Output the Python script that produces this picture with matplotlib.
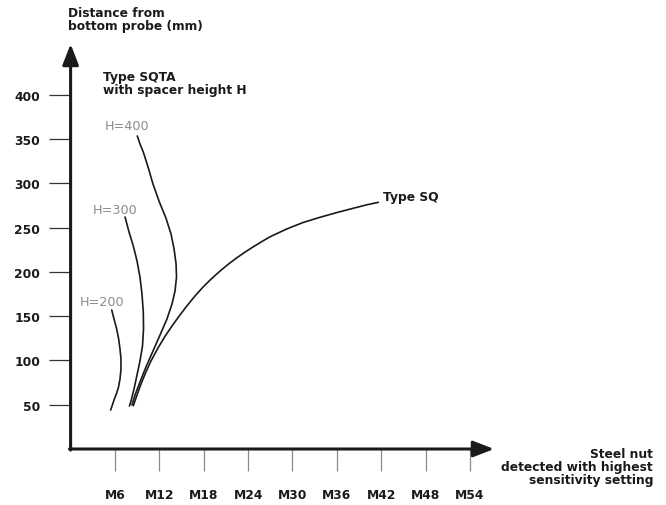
import matplotlib
matplotlib.use("Agg")
import matplotlib.pyplot as plt

# ---- data ----
x_ticks = [6, 12, 18, 24, 30, 36, 42, 48, 54]
x_tick_labels = ["M6", "M12", "M18", "M24", "M30", "M36", "M42", "M48", "M54"]
y_ticks = [50, 100, 150, 200, 250, 300, 350, 400]

h200_x = [5.56, 5.87, 6.23, 6.50, 6.68, 6.81, 6.81, 6.68, 6.48, 6.23, 5.87, 5.42]
h200_y = [156.9, 146.8, 135.5, 124.2, 112.9, 101.6, 90.3, 79.0, 70.0, 63.2, 55.3, 44.0]

h300_x = [7.36, 7.90, 8.48, 8.98, 9.38, 9.65, 9.83, 9.86, 9.72, 9.38, 8.98, 8.57, 8.17, 7.96]
h300_y = [261.9, 245.0, 229.2, 212.3, 194.2, 175.0, 154.7, 135.5, 116.3, 99.4, 83.5, 67.7, 54.2, 48.5]

h400_x = [9.02, 9.38, 9.83, 10.47, 11.14, 11.95, 12.90, 13.58, 13.99, 14.26, 14.32, 14.12,
          13.71, 13.03, 12.09, 11.14, 10.19, 9.38, 8.71, 8.30]
h400_y = [353.4, 344.4, 335.3, 318.4, 299.2, 280.0, 260.5, 242.7, 225.8, 208.9, 194.2, 178.4,
          163.7, 146.8, 128.7, 110.6, 92.6, 75.6, 61.0, 49.7]

sq_x = [8.48, 8.98, 9.52, 10.19, 10.87, 11.82, 12.76, 13.84, 14.79, 15.70, 16.82, 17.94, 18.98,
        20.20, 21.28, 22.46, 23.58, 24.70, 25.88, 26.96, 29.22, 31.42, 33.72, 36.02, 38.22,
        39.94, 41.60]
sq_y = [48.9, 61.0, 73.4, 87.0, 99.4, 114.1, 127.2, 140.4, 151.3, 161.3, 172.8, 183.1, 191.7,
        200.9, 208.4, 215.8, 222.3, 228.3, 234.3, 239.6, 248.4, 255.7, 261.6, 267.0, 271.8,
        275.5, 278.5]

# ---- figure ----
W, H = 666, 506
fig = plt.figure(figsize=(W / 100, H / 100), dpi=100)
px_x0, px_x1 = 70.6, 494.0
px_y0, px_y1 = 450.0, 45.0
ax = fig.add_axes([px_x0 / W, (H - px_y0) / H, (px_x1 - px_x0) / W, (px_y0 - px_y1) / H])
XMAX = (px_x1 - px_x0) / 7.396
YMAX = (px_y0 - px_y1) / 0.8857
ax.set_xlim(0, XMAX)
ax.set_ylim(0, YMAX)
for s in ax.spines.values():
    s.set_visible(False)
ax.patch.set_alpha(0)

bold = dict(family="DejaVu Sans", fontweight="bold", fontsize=8.8, color="#1a1a1a")
light = dict(family="DejaVu Sans", fontweight="normal", fontsize=9.2, color="#8c8c8c")

# axes arrows
arrow = dict(arrowstyle="-|>,head_length=0.9,head_width=0.35", lw=2.2, color="#1a1a1a",
             shrinkA=0, shrinkB=0, mutation_scale=14)
ax.annotate("", xy=(0, YMAX), xytext=(0, -1.2), arrowprops=arrow, annotation_clip=False)
ax.annotate("", xy=(XMAX, 0), xytext=(-0.15, 0), arrowprops=arrow, annotation_clip=False)

# ticks
ax.set_yticks(y_ticks)
ax.set_yticklabels([str(v) for v in y_ticks])
ax.tick_params(axis="y", direction="out", length=16, width=0.9, color="#333333", pad=6,
               labelsize=8.8, labelcolor="#1a1a1a")
ax.set_xticks(x_ticks)
ax.set_xticklabels(x_tick_labels)
ax.tick_params(axis="x", direction="out", length=16, width=0.9, color="#8a8a8a", pad=12,
               labelsize=8.8, labelcolor="#1a1a1a")
for lab in ax.get_xticklabels() + ax.get_yticklabels():
    lab.set_fontweight("bold")

# curves
lw = 1.2
for xs, ys in [(h200_x, h200_y), (h300_x, h300_y), (h400_x, h400_y), (sq_x, sq_y)]:
    ax.plot(xs, ys, color="#1a1a1a", lw=lw, solid_capstyle="round", solid_joinstyle="round")

# labels
ax.text(4.65, 365, "H=400", ha="left", va="center", **light)
ax.text(3.03, 270, "H=300", ha="left", va="center", **light)
ax.text(1.27, 167, "H=200", ha="left", va="center", **light)
ax.text(4.38, 428, "Type SQTA\nwith spacer height H", ha="left", va="top", linespacing=1.0, **bold)
ax.text(42.2, 285, "Type SQ", ha="left", va="center", **bold)
ax.text(-0.3, 500, "Distance from\nbottom probe (mm)", ha="left", va="top", linespacing=1.0,
        clip_on=False, **bold)
ax.text(78.75, 2.0, "Steel nut\ndetected with highest\nsensitivity setting", ha="right", va="top",
        linespacing=1.0, clip_on=False, **bold)

fig.savefig("out.png", dpi=100)
